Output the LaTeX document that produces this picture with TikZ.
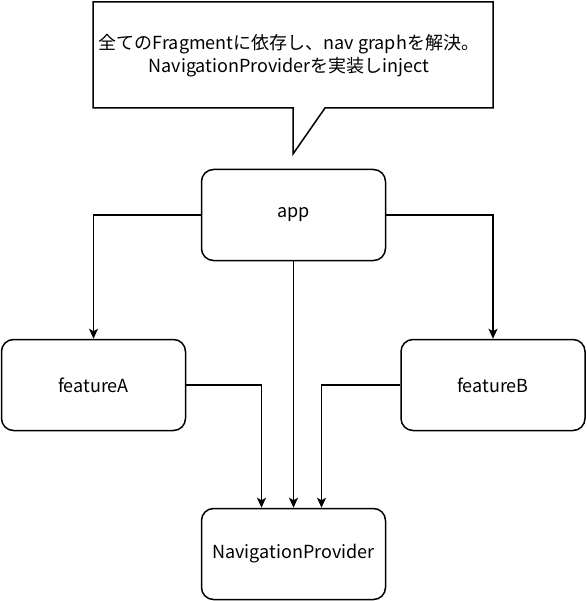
\documentclass[tikz,border=0pt]{standalone}
\usepackage{fontspec}
\setmainfont{Noto Sans CJK JP}
\usepackage{tikz}
\usetikzlibrary{arrows.meta}

\begin{document}
\begin{tikzpicture}[x=1pt, y=-1pt, line width=1.5pt,
    box/.style={rectangle, rounded corners=12pt, draw, minimum width=184pt,
      minimum height=91pt, font=\fontsize{18}{22}\selectfont},
    dep/.style={-{Stealth[length=10pt, width=9pt, inset=2.5pt]}}]
  \useasboundingbox (0,0) rectangle (586,601);

  % callout note above app
  \draw (93,2) -- (493,2) -- (493,108) -- (325,108) -- (293,154) -- (293,108)
    -- (93,108) -- cycle;
  \node[align=center, font=\fontsize{18}{23}\selectfont] (note) at (289,56)
    {全てのFragmentに依存し、nav graphを解決。\\NavigationProviderを実装しinject};

  % modules
  \node[box] (app)     at (293.5,215) {app};
  \node[box] (featA)   at (93.5,385)  {featureA};
  \node[box] (featB)   at (493,385)   {featureB};
  \node[box] (navprov) at (293.5,554) {NavigationProvider};

  % app depends on everything
  \draw[dep] (app.west) -| (featA.north);
  \draw[dep] (app.east) -| (featB.north);
  \draw[dep] (app.south) -- (navprov.north);

  % features -> NavigationProvider
  \draw[dep] (featA.east) -| ([xshift=-32pt]navprov.north);
  \draw[dep] (featB.west) -| ([xshift=28pt]navprov.north);
\end{tikzpicture}
\end{document}
